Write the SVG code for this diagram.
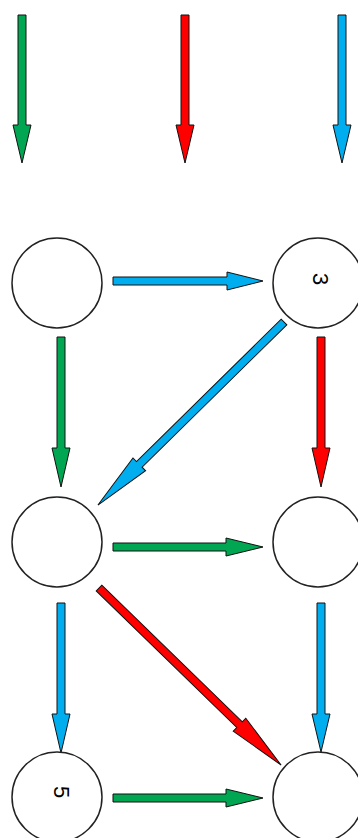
<svg xmlns="http://www.w3.org/2000/svg" width="358" height="838" viewBox="0 0 358 838">
<style>
.node{fill:#fff;stroke:#222;stroke-width:1.5}
.lbl{font-family:"Liberation Sans",Arial,sans-serif;font-size:22px;fill:#000;text-anchor:middle;dominant-baseline:central}
.a{stroke:#111;stroke-width:1;stroke-linejoin:miter}
.g{fill:#00a651}
.r{fill:#ff0000}
.b{fill:#00aeef}
</style>
<rect width="358" height="838" fill="#fff"/>
<g id="connectors">
  <polygon class="a g" transform="translate(22,15) rotate(90)" points="0,-4 110,-4 110,-9 148,0 110,9 110,4 0,4"/>
  <polygon class="a r" transform="translate(185,15) rotate(90)" points="0,-4 110,-4 110,-9 148,0 110,9 110,4 0,4"/>
  <polygon class="a b" transform="translate(342,15) rotate(90)" points="0,-4 110,-4 110,-9 148,0 110,9 110,4 0,4"/>
  <polygon class="a b" transform="translate(113,281)" points="0,-4 114,-4 114,-9 150,0 114,9 114,4 0,4"/>
  <polygon class="a g" transform="translate(61,337) rotate(90)" points="0,-4 111,-4 111,-9 150,0 111,9 111,4 0,4"/>
  <polygon class="a r" transform="translate(321,337) rotate(90)" points="0,-4 111,-4 111,-9 150,0 111,9 111,4 0,4"/>
  <polygon class="a b" transform="translate(284,322) rotate(135.47)" points="0,-4 203,-4 203,-9 261,0 203,9 203,4 0,4"/>
  <polygon class="a g" transform="translate(113,547)" points="0,-4 113,-4 113,-9 150,0 113,9 113,4 0,4"/>
  <polygon class="a r" transform="translate(99,588) rotate(44.2)" points="0,-4 196,-4 196,-9 254,0 196,9 196,4 0,4"/>
  <polygon class="a b" transform="translate(61,603) rotate(90)" points="0,-4 111,-4 111,-9 150,0 111,9 111,4 0,4"/>
  <polygon class="a b" transform="translate(321,603) rotate(90)" points="0,-4 111,-4 111,-9 149,0 111,9 111,4 0,4"/>
  <polygon class="a g" transform="translate(113,798)" points="0,-4 113,-4 113,-9 150,0 113,9 113,4 0,4"/>
</g>
<g id="n1"><circle class="node" cx="57" cy="283" r="45"/></g>
<g id="n2"><circle class="node" cx="318" cy="283" r="45"/><text class="lbl" transform="translate(320,279) rotate(90)">3</text></g>
<g id="n3"><circle class="node" cx="57" cy="542" r="45"/></g>
<g id="n4"><circle class="node" cx="318" cy="542" r="45"/></g>
<g id="n5"><circle class="node" cx="57" cy="797" r="45"/><text class="lbl" transform="translate(61,792) rotate(90)">5</text></g>
<g id="n6"><circle class="node" cx="318" cy="797" r="45"/></g>
</svg>
